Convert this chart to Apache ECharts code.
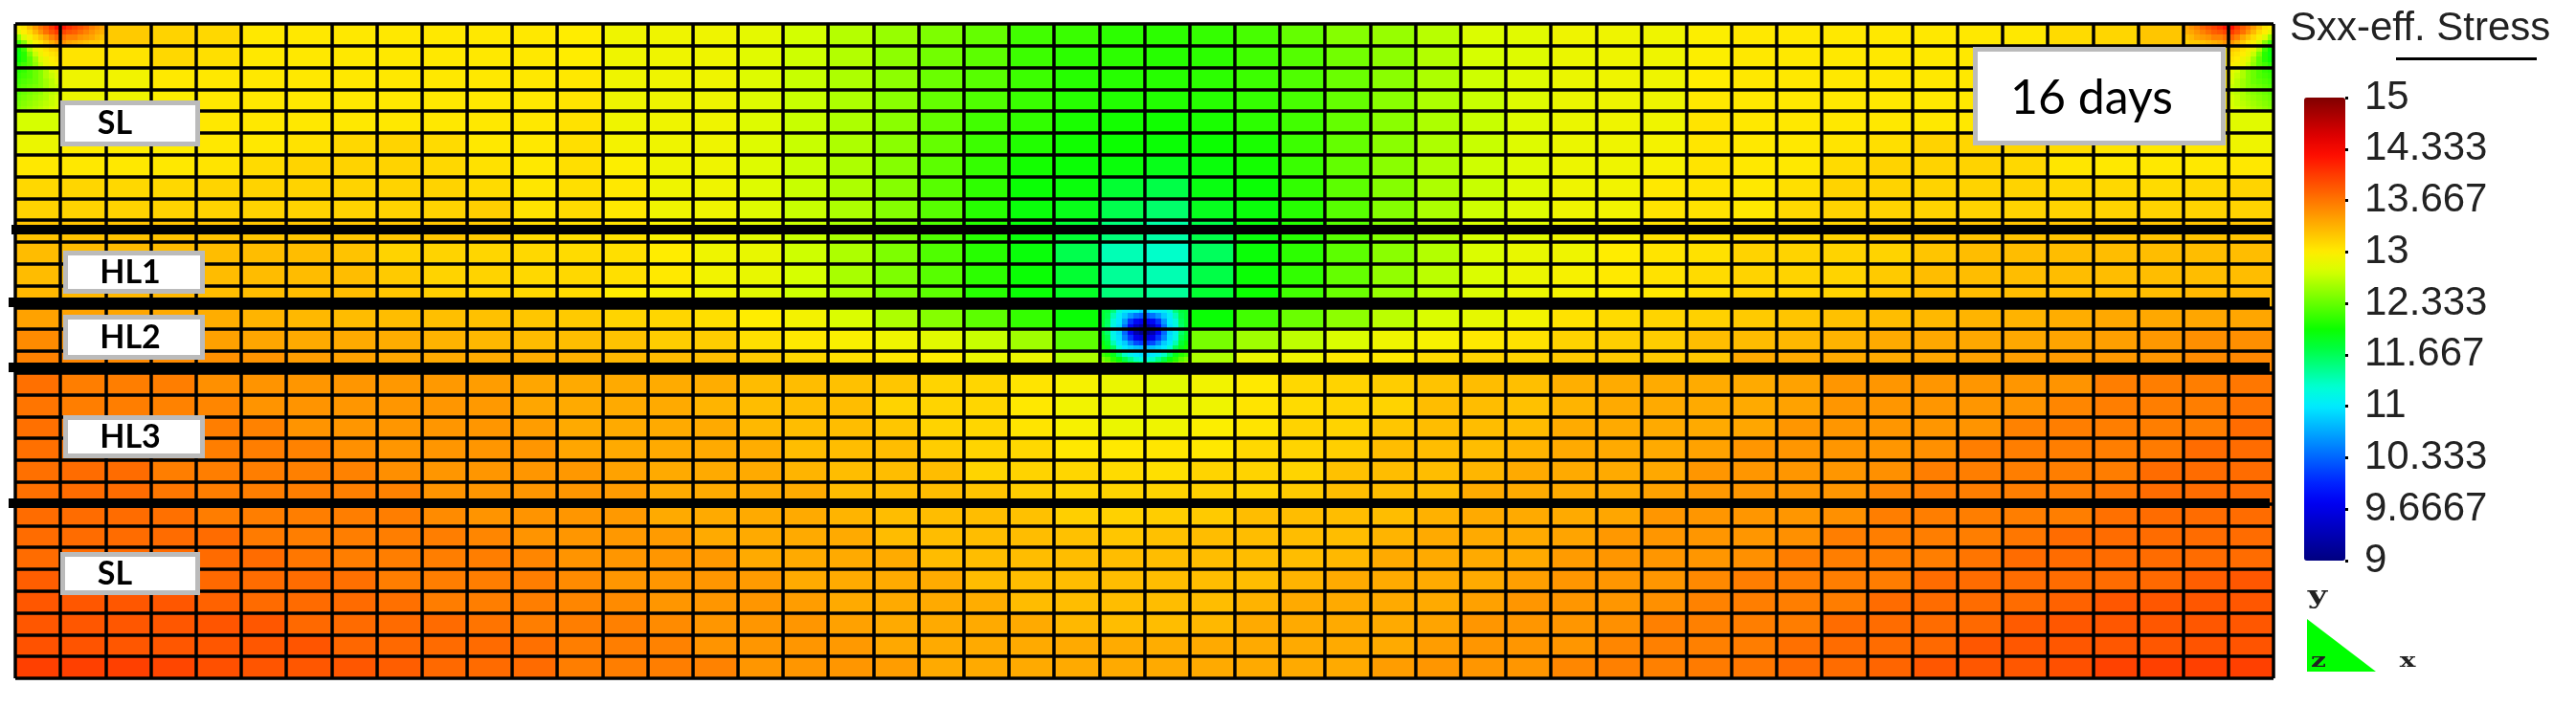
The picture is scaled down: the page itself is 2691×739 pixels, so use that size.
<!DOCTYPE html>
<html>
<head>
<meta charset="utf-8">
<style>html,body{margin:0;padding:0;background:#fff}#c{width:2691px;height:739px}</style>
<script src="https://cdn.jsdelivr.net/npm/echarts@6/dist/echarts.min.js"></script>
</head>
<body>
<div id="c"></div>
<script>
// Element values, one list per mesh row (top to bottom), 50 columns each.
const row00=[13.0,13.5,13.2,13.15,13.12,13.03,13.03,13.03,13.03,13.03,13.03,13.03,13.0,12.9,12.9,12.9,12.84,12.74,12.63,12.52,12.42,12.33,12.2,12.17,12.12,12.12,12.15,12.22,12.33,12.45,12.52,12.64,12.78,12.82,12.9,12.9,12.9,12.98,13.03,13.03,13.03,13.03,13.03,13.03,13.03,13.1,13.13,13.22,13.6,13.0];
const row01=[12.55,13.05,13.05,13.12,13.08,13.03,13.03,13.03,13.03,13.03,13.03,13.03,13.0,12.9,12.9,12.9,12.82,12.72,12.62,12.48,12.38,12.3,12.18,12.12,12.12,12.1,12.12,12.2,12.27,12.38,12.48,12.62,12.75,12.8,12.88,12.9,12.9,12.98,13.03,13.03,13.03,13.03,13.03,13.03,13.03,13.03,13.03,13.03,13.03,12.55];
const row02=[12.45,12.9,12.92,13.02,13.03,13.03,13.03,13.03,13.03,13.03,13.03,13.03,13.03,12.9,12.9,12.9,12.8,12.7,12.6,12.48,12.35,12.28,12.18,12.1,12.1,12.1,12.12,12.18,12.25,12.35,12.47,12.6,12.72,12.8,12.88,12.9,12.9,13.0,13.03,13.03,13.03,13.03,13.03,13.03,13.03,13.03,13.03,13.03,13.03,12.55];
const row03=[12.6,12.88,12.9,12.98,13.03,13.03,13.03,13.03,13.03,13.03,13.03,13.03,13.05,12.9,12.9,12.9,12.8,12.7,12.6,12.47,12.33,12.25,12.17,12.1,12.08,12.08,12.1,12.15,12.22,12.33,12.47,12.6,12.7,12.8,12.88,12.9,12.9,13.03,13.03,13.03,13.03,13.03,13.03,13.03,13.03,13.03,13.03,13.03,13.03,12.72];
const row04=[12.75,13.0,13.0,13.0,13.03,13.03,13.03,13.03,13.03,13.03,13.03,13.03,13.06,12.9,12.9,12.9,12.8,12.7,12.6,12.47,12.33,12.2,12.14,12.05,12.03,12.02,12.05,12.12,12.2,12.33,12.47,12.6,12.7,12.8,12.88,12.9,12.9,13.05,13.03,13.03,13.03,13.03,13.03,13.03,13.03,13.03,13.03,13.03,13.03,12.82];
const row05=[12.88,13.0,13.0,13.0,13.03,13.03,13.06,13.12,13.14,13.1,13.03,13.03,13.08,12.93,12.9,12.9,12.8,12.7,12.6,12.47,12.33,12.18,12.08,12.02,12.0,11.98,12.0,12.05,12.18,12.33,12.47,12.6,12.7,12.8,12.88,12.9,12.93,13.04,13.03,13.03,13.05,13.08,13.15,13.13,13.13,13.1,13.05,13.03,13.03,12.9];
const row06=[13.03,13.03,13.03,13.03,13.05,13.1,13.14,13.15,13.15,13.12,13.07,13.03,13.08,12.98,12.9,12.9,12.8,12.7,12.6,12.45,12.3,12.15,12.03,11.98,11.96,11.9,11.96,12.03,12.17,12.32,12.47,12.6,12.72,12.8,12.89,12.9,12.95,13.05,13.03,13.03,13.1,13.15,13.15,13.15,13.12,13.04,13.03,13.03,13.03,13.03];
const row07=[13.12,13.13,13.12,13.12,13.14,13.15,13.15,13.15,13.15,13.15,13.1,13.04,13.08,13.03,12.9,12.9,12.8,12.7,12.6,12.45,12.28,12.13,11.98,11.95,11.8,11.72,11.93,11.98,12.14,12.3,12.45,12.6,12.7,12.8,12.9,12.92,13.03,13.05,13.03,13.08,13.15,13.15,13.15,13.15,13.15,13.12,13.12,13.1,13.12,13.14];
const row08=[13.15,13.15,13.15,13.15,13.15,13.15,13.15,13.15,13.15,13.15,13.17,13.05,13.1,13.03,12.9,12.9,12.8,12.7,12.6,12.45,12.28,12.1,11.96,11.9,11.7,11.6,11.88,11.96,12.1,12.28,12.45,12.6,12.72,12.8,12.9,12.92,13.05,13.06,13.03,13.12,13.15,13.15,13.15,13.15,13.15,13.15,13.15,13.15,13.15,13.15];
const row09=[13.24,13.24,13.24,13.24,13.24,13.22,13.22,13.22,13.22,13.22,13.2,13.1,13.08,13.06,12.95,12.9,12.82,12.7,12.58,12.42,12.25,12.1,11.96,11.8,11.55,11.4,11.72,11.96,12.1,12.28,12.45,12.6,12.75,12.82,12.9,12.95,13.07,13.07,13.1,13.12,13.15,13.2,13.24,13.24,13.24,13.24,13.24,13.24,13.24,13.24];
const row10=[13.28,13.28,13.28,13.28,13.27,13.27,13.27,13.24,13.15,13.15,13.13,13.12,13.1,13.08,13.0,12.9,12.86,12.72,12.6,12.42,12.25,12.1,11.96,11.7,11.35,11.28,11.65,11.97,12.12,12.3,12.47,12.62,12.78,12.86,12.9,13.0,13.05,13.07,13.15,13.15,13.15,13.15,13.23,13.27,13.27,13.27,13.27,13.27,13.27,13.27];
const row11=[13.28,13.28,13.28,13.28,13.28,13.28,13.28,13.27,13.2,13.15,13.15,13.12,13.12,13.08,13.02,12.92,12.86,12.75,12.58,12.42,12.28,12.12,11.98,11.8,11.45,11.36,11.72,11.98,12.14,12.33,12.5,12.65,12.78,12.88,12.95,13.02,13.06,13.1,13.15,13.15,13.15,13.2,13.27,13.27,13.27,13.27,13.27,13.27,13.27,13.27];
const row12=[13.3,13.3,13.3,13.3,13.27,13.27,13.27,13.27,13.22,13.17,13.15,13.12,13.1,13.0,12.95,12.9,12.82,12.72,12.6,12.42,12.3,12.1,11.98,11.85,11.55,11.45,11.8,12.0,12.2,12.35,12.52,12.65,12.78,12.88,12.93,12.98,13.02,13.08,13.14,13.15,13.15,13.22,13.27,13.27,13.27,13.27,13.27,13.27,13.3,13.3];
const row13=[13.42,13.42,13.4,13.38,13.36,13.32,13.3,13.28,13.27,13.26,13.25,13.22,13.2,13.14,13.13,13.08,13.0,12.93,12.78,12.6,12.45,12.3,12.15,11.98,11.2,11.2,11.98,12.2,12.35,12.48,12.65,12.78,12.85,12.92,13.06,13.1,13.14,13.16,13.2,13.23,13.25,13.27,13.3,13.32,13.33,13.36,13.39,13.39,13.4,13.4];
const row14=[13.55,13.5,13.48,13.46,13.43,13.4,13.38,13.38,13.36,13.33,13.3,13.28,13.27,13.24,13.18,13.18,13.08,13.03,12.97,12.9,12.82,12.7,12.55,12.3,11.2,11.2,12.4,12.55,12.66,12.78,12.9,12.95,13.03,13.06,13.15,13.17,13.18,13.27,13.28,13.3,13.33,13.38,13.39,13.39,13.39,13.41,13.44,13.48,13.53,13.53];
const row15=[13.6,13.58,13.56,13.55,13.52,13.5,13.45,13.42,13.4,13.38,13.37,13.36,13.34,13.3,13.28,13.27,13.2,13.13,13.08,13.04,13.0,12.88,12.88,12.6,12.0,12.0,12.6,12.88,12.9,13.03,13.03,13.1,13.15,13.14,13.2,13.2,13.2,13.22,13.38,13.38,13.38,13.38,13.4,13.42,13.44,13.46,13.48,13.49,13.55,13.57];
const row16=[13.7,13.62,13.62,13.62,13.52,13.5,13.49,13.49,13.48,13.47,13.45,13.4,13.38,13.38,13.37,13.36,13.28,13.27,13.25,13.22,13.14,13.13,13.05,12.95,12.88,12.82,12.92,13.02,13.12,13.15,13.18,13.24,13.27,13.26,13.35,13.37,13.37,13.37,13.38,13.42,13.49,13.49,13.49,13.49,13.49,13.5,13.62,13.62,13.62,13.66];
const row17=[13.67,13.62,13.62,13.6,13.58,13.5,13.5,13.49,13.49,13.49,13.47,13.4,13.38,13.38,13.38,13.32,13.27,13.27,13.27,13.15,13.14,13.13,13.03,12.92,12.88,12.85,12.9,13.05,13.1,13.14,13.15,13.27,13.27,13.25,13.32,13.38,13.38,13.38,13.38,13.42,13.49,13.49,13.49,13.49,13.5,13.58,13.62,13.62,13.62,13.68];
const row18=[13.7,13.64,13.64,13.62,13.62,13.6,13.5,13.49,13.49,13.49,13.49,13.45,13.38,13.38,13.38,13.38,13.3,13.27,13.27,13.22,13.15,13.13,13.05,12.95,12.88,12.9,12.98,13.05,13.15,13.15,13.22,13.27,13.27,13.28,13.37,13.38,13.38,13.38,13.4,13.49,13.49,13.49,13.49,13.5,13.6,13.62,13.62,13.62,13.62,13.72];
const row19=[13.7,13.68,13.68,13.68,13.62,13.62,13.6,13.52,13.49,13.49,13.49,13.49,13.4,13.38,13.38,13.38,13.36,13.27,13.27,13.27,13.18,13.14,13.12,13.03,13.02,13.04,13.03,13.12,13.14,13.17,13.27,13.27,13.27,13.32,13.38,13.38,13.38,13.42,13.49,13.49,13.49,13.49,13.52,13.62,13.62,13.62,13.62,13.64,13.72,13.72];
const row20=[13.7,13.72,13.72,13.62,13.62,13.62,13.61,13.6,13.53,13.49,13.49,13.49,13.48,13.42,13.38,13.38,13.38,13.32,13.27,13.27,13.27,13.14,13.15,13.13,13.1,13.08,13.14,13.15,13.14,13.25,13.27,13.27,13.31,13.38,13.38,13.38,13.39,13.49,13.49,13.49,13.49,13.52,13.62,13.62,13.62,13.62,13.63,13.72,13.72,13.72];
const row21=[13.7,13.72,13.72,13.66,13.62,13.62,13.62,13.61,13.6,13.5,13.49,13.49,13.49,13.46,13.38,13.38,13.38,13.37,13.28,13.27,13.27,13.24,13.18,13.14,13.15,13.15,13.16,13.15,13.2,13.27,13.27,13.27,13.37,13.38,13.38,13.38,13.42,13.48,13.49,13.49,13.49,13.58,13.62,13.62,13.62,13.62,13.66,13.72,13.72,13.72];
const row22=[13.72,13.72,13.72,13.7,13.63,13.62,13.62,13.62,13.62,13.55,13.5,13.5,13.49,13.47,13.38,13.38,13.38,13.38,13.32,13.27,13.27,13.27,13.25,13.17,13.16,13.18,13.2,13.27,13.27,13.27,13.27,13.34,13.38,13.38,13.38,13.4,13.49,13.49,13.49,13.49,13.52,13.62,13.62,13.62,13.62,13.62,13.7,13.72,13.72,13.72];
const row23=[13.72,13.72,13.72,13.72,13.72,13.64,13.62,13.62,13.62,13.62,13.58,13.5,13.49,13.48,13.46,13.38,13.38,13.38,13.38,13.28,13.27,13.27,13.27,13.25,13.22,13.25,13.27,13.27,13.27,13.27,13.32,13.38,13.38,13.38,13.41,13.48,13.49,13.49,13.49,13.52,13.62,13.62,13.62,13.62,13.66,13.72,13.72,13.72,13.72,13.72];
const row24=[13.72,13.73,13.73,13.73,13.73,13.72,13.66,13.62,13.62,13.62,13.62,13.58,13.5,13.49,13.49,13.47,13.38,13.38,13.38,13.37,13.28,13.27,13.27,13.27,13.27,13.27,13.27,13.27,13.27,13.3,13.38,13.38,13.38,13.38,13.46,13.49,13.49,13.49,13.52,13.62,13.62,13.62,13.62,13.67,13.72,13.72,13.72,13.72,13.72,13.72];
const row25=[13.8,13.78,13.75,13.74,13.74,13.72,13.72,13.7,13.62,13.62,13.62,13.62,13.55,13.49,13.49,13.49,13.46,13.38,13.38,13.38,13.37,13.28,13.27,13.27,13.27,13.27,13.27,13.27,13.32,13.38,13.38,13.38,13.38,13.44,13.49,13.49,13.49,13.56,13.62,13.62,13.62,13.63,13.72,13.72,13.72,13.72,13.72,13.74,13.8,13.84];
const row26=[13.84,13.84,13.84,13.84,13.78,13.73,13.73,13.73,13.7,13.63,13.62,13.62,13.58,13.55,13.49,13.49,13.49,13.45,13.38,13.38,13.38,13.36,13.28,13.27,13.27,13.27,13.27,13.33,13.38,13.38,13.38,13.38,13.43,13.49,13.49,13.49,13.52,13.6,13.62,13.62,13.63,13.72,13.72,13.72,13.72,13.78,13.84,13.84,13.84,13.84];
const row27=[13.84,13.84,13.84,13.84,13.85,13.84,13.74,13.73,13.73,13.73,13.68,13.62,13.62,13.61,13.55,13.49,13.49,13.49,13.43,13.38,13.38,13.38,13.38,13.3,13.27,13.27,13.3,13.38,13.38,13.38,13.38,13.41,13.49,13.49,13.49,13.52,13.61,13.61,13.62,13.63,13.72,13.72,13.72,13.74,13.82,13.84,13.84,13.84,13.84,13.84];
const row28=[13.87,13.86,13.84,13.84,13.84,13.84,13.85,13.75,13.74,13.73,13.73,13.7,13.62,13.62,13.6,13.5,13.49,13.49,13.47,13.39,13.38,13.38,13.38,13.38,13.37,13.36,13.38,13.38,13.38,13.38,13.38,13.45,13.49,13.49,13.49,13.58,13.61,13.61,13.63,13.7,13.72,13.72,13.74,13.84,13.84,13.84,13.84,13.84,13.86,13.86];
const row29=[13.97,13.97,13.97,13.94,13.88,13.85,13.84,13.84,13.8,13.74,13.73,13.73,13.62,13.62,13.62,13.6,13.49,13.49,13.49,13.45,13.38,13.38,13.38,13.38,13.38,13.38,13.38,13.38,13.38,13.38,13.45,13.49,13.49,13.49,13.57,13.61,13.61,13.64,13.66,13.72,13.72,13.76,13.84,13.84,13.84,13.88,13.96,13.97,13.97,13.97];
const meshRows=[row00,row01,row02,row03,row04,row05,row06,row07,row08,row09,row10,row11,row12,row13,row14,row15,row16,row17,row18,row19,row20,row21,row22,row23,row24,row25,row26,row27,row28,row29];

// Finer readings where a single element holds a strong gradient.
const flawPatch=[ // columns 24-25, rows 13-15: 8 values across an element, 4 down
[11.8,11.75,11.55,11.2,11.05,11.0,11.0,10.85,10.85,11.0,11.0,11.05,11.2,11.55,11.75,11.8],
[11.8,11.7,11.35,11.05,10.85,10.6,10.4,10.3,10.3,10.4,10.6,10.85,11.05,11.35,11.7,11.8],
[11.8,11.65,11.2,11.0,10.6,10.1,9.8,9.7,9.7,9.8,10.1,10.6,11.0,11.2,11.65,11.8],
[11.8,11.6,11.15,10.95,10.4,9.8,9.4,9.2,9.2,9.4,9.8,10.4,10.95,11.15,11.6,11.8],
[11.8,11.6,11.1,10.9,10.35,9.8,9.3,9.1,9.1,9.3,9.8,10.35,10.9,11.1,11.6,11.8],
[11.85,11.7,11.15,10.95,10.5,10.1,9.7,9.6,9.6,9.7,10.1,10.5,10.95,11.15,11.7,11.85],
[11.95,11.8,11.35,11.0,10.85,10.5,10.2,10.1,10.1,10.2,10.5,10.85,11.0,11.35,11.8,11.95],
[12.05,11.9,11.65,11.25,11.0,10.9,10.8,10.75,10.75,10.8,10.9,11.0,11.25,11.65,11.9,12.05],
[12.2,12.1,11.9,11.6,11.3,11.1,11.0,10.95,10.95,11.0,11.1,11.3,11.6,11.9,12.1,12.2],
[12.4,12.3,12.1,11.95,11.7,11.5,11.3,11.2,11.2,11.3,11.5,11.7,11.95,12.1,12.3,12.4],
[12.6,12.5,12.35,12.2,12.05,11.9,11.8,11.7,11.7,11.8,11.9,12.05,12.2,12.35,12.5,12.6],
[12.7,12.65,12.55,12.45,12.3,12.2,12.1,12.05,12.05,12.1,12.2,12.3,12.45,12.55,12.65,12.7]];
const cornerLeftA=[ // columns 0-1, row 0
[13.0,13.05,13.25,13.45,13.65,13.8,14.0,14.25,14.2,14.05,13.95,13.85,13.75,13.6,13.5,13.4],
[12.85,13.0,13.1,13.3,13.5,13.7,13.85,14.0,13.95,13.85,13.8,13.7,13.6,13.5,13.4,13.35],
[12.5,12.8,12.95,13.1,13.25,13.4,13.6,13.75,13.7,13.6,13.6,13.5,13.45,13.4,13.3,13.25],
[12.2,12.45,12.75,12.95,13.05,13.2,13.35,13.5,13.5,13.4,13.35,13.3,13.25,13.2,13.2,13.15]];
const cornerLeftB=[ // column 0, rows 1-3
[12.0,12.2,12.6,12.85,12.95,13.05,13.15,13.2],
[11.95,12.1,12.4,12.7,12.9,13.0,13.05,13.1],
[12.0,12.1,12.3,12.55,12.8,12.9,13.0,13.05],
[12.1,12.2,12.3,12.5,12.7,12.88,12.95,13.0],
[12.1,12.15,12.25,12.35,12.45,12.6,12.75,12.85],
[12.15,12.2,12.25,12.35,12.45,12.6,12.7,12.8],
[12.2,12.25,12.3,12.35,12.45,12.55,12.65,12.75],
[12.25,12.3,12.35,12.4,12.45,12.55,12.65,12.7],
[12.3,12.35,12.4,12.45,12.5,12.6,12.65,12.7],
[12.35,12.4,12.45,12.5,12.55,12.6,12.7,12.75],
[12.4,12.45,12.5,12.55,12.6,12.65,12.7,12.75],
[12.45,12.5,12.55,12.6,12.65,12.7,12.75,12.8]];
const cornerRightA=[ // columns 48-49, row 0
[13.4,13.5,13.6,13.75,13.85,13.95,14.05,14.2,14.25,14.0,13.8,13.65,13.45,13.25,13.05,13.0],
[13.35,13.4,13.5,13.6,13.7,13.8,13.85,13.95,14.0,13.85,13.7,13.5,13.3,13.1,13.0,12.85],
[13.25,13.3,13.4,13.45,13.5,13.6,13.6,13.7,13.75,13.6,13.4,13.25,13.1,12.95,12.8,12.5],
[13.15,13.2,13.2,13.25,13.3,13.35,13.4,13.5,13.5,13.35,13.2,13.05,12.95,12.75,12.45,12.2]];
const cornerRightB=[ // column 49, rows 1-3
[13.2,13.15,13.05,12.95,12.85,12.6,12.2,12.0],
[13.1,13.05,13.0,12.9,12.7,12.4,12.1,11.95],
[13.05,13.0,12.9,12.8,12.55,12.3,12.1,12.0],
[13.0,12.95,12.88,12.7,12.5,12.3,12.2,12.1],
[12.85,12.75,12.6,12.45,12.35,12.25,12.15,12.1],
[12.8,12.7,12.6,12.45,12.35,12.25,12.2,12.15],
[12.75,12.65,12.55,12.45,12.35,12.3,12.25,12.2],
[12.7,12.65,12.55,12.45,12.4,12.35,12.3,12.25],
[12.7,12.65,12.6,12.5,12.45,12.4,12.35,12.3],
[12.75,12.7,12.6,12.55,12.5,12.45,12.4,12.35],
[12.75,12.7,12.65,12.6,12.55,12.5,12.45,12.4],
[12.8,12.75,12.7,12.65,12.6,12.55,12.5,12.45]];

const legendTicks=[9,9.6667,10.333,11,11.667,12.333,13,13.667,14.333,15];
const jetStops=['#000080','#0000A6','#0000CC','#0000F3','#0022FF','#0054FF','#0086FF','#00B9FF','#00EBFF','#00FFD3','#00FF88','#00FF3E','#0BFF00','#4FFF00','#92FF00','#D6FF00','#FFED00','#FFC100','#FF9400','#FF6700','#FF3B00','#FF0E00','#DF0000','#AF0000','#800000'];
const layerLabels=[
  {text:'SL', box:[63,105,146,48],tx:120,ty:129},
  {text:'HL1',box:[66,262,148,45],tx:136,ty:285},
  {text:'HL2',box:[66,329,148,47],tx:136,ty:353},
  {text:'HL3',box:[66,434,148,45],tx:136,ty:457},
  {text:'SL', box:[63,577,146,45],tx:120,ty:600}
];
const layerLines=[[12,2375,240],[9,2371,316],[9,2371,384],[9,2371,526]];

// ---- data for the library ----
const cellData=[];
meshRows.forEach((r,j)=>r.forEach((v,i)=>cellData.push([i,j,v,1,1])));
const patchData=[];
function addPatch(vals,col,row,perCol,perRow){
  vals.forEach((r,j)=>r.forEach((v,i)=>patchData.push([col+i/perCol,row+j/perRow,v,1/perCol,1/perRow])));
}
addPatch(flawPatch,24,13,8,4);
addPatch(cornerLeftA,0,0,8,4);
addPatch(cornerLeftB,0,1,8,4);
addPatch(cornerRightA,48,0,8,4);
addPatch(cornerRightB,49,1,8,4);

function renderCell(params,api){
  const x=api.value(0),y=api.value(1),w=api.value(3),h=api.value(4);
  const a=api.coord([x,y]),b=api.coord([x+w,y+h]);
  const x0=Math.round(a[0]),y0=Math.round(a[1]),x1=Math.round(b[0]),y1=Math.round(b[1]);
  return {type:'rect',shape:{x:x0,y:y0,width:x1-x0,height:y1-y0},style:{fill:api.visual('color')}};
}

const graphics=[];
layerLines.forEach(l=>graphics.push({type:'rect',z:50,shape:{x:l[0],y:l[2]-5,width:l[1]-l[0],height:10},style:{fill:'#000'}}));
layerLabels.forEach(b=>{
  graphics.push({type:'rect',z:51,shape:{x:b.box[0]+2.5,y:b.box[1]+2.5,width:b.box[2]-5,height:b.box[3]-5},style:{fill:'#fff',stroke:'#BBBBBB',lineWidth:5}});
  graphics.push({type:'text',z:52,x:b.tx,y:b.ty,style:{text:b.text,font:'bold 34px Lato',fill:'#000',textAlign:'center',textVerticalAlign:'middle'}});
});
graphics.push({type:'rect',z:51,shape:{x:2063.5,y:51.5,width:259,height:98},style:{fill:'#fff',stroke:'#BBBBBB',lineWidth:5}});
graphics.push({type:'text',z:52,x:2185,y:103,style:{text:'16 days',font:'50px Lato',fill:'#000',textAlign:'center',textVerticalAlign:'middle'}});
graphics.push({type:'rect',z:51,shape:{x:2503,y:60,width:147,height:3},style:{fill:'#000'}});
graphics.push({type:'polygon',z:51,shape:{points:[[2410,647],[2410,702],[2482,702]]},style:{fill:'#00FF00'}});
graphics.push({type:'text',z:52,x:2421,y:624,scaleX:1.35,style:{text:'y',font:'bold 26px "DejaVu Serif"',fill:'#222',textAlign:'center',textVerticalAlign:'middle'}});
graphics.push({type:'text',z:52,x:2422,y:692,scaleX:1.4,style:{text:'z',font:'bold 20px "DejaVu Serif"',fill:'#222',textAlign:'center',textVerticalAlign:'middle'}});
graphics.push({type:'text',z:52,x:2515,y:692,scaleX:1.4,style:{text:'x',font:'bold 20px "DejaVu Serif"',fill:'#222',textAlign:'center',textVerticalAlign:'middle'}});

const chart=echarts.init(document.getElementById('c'),null,{renderer:'canvas'});
chart.setOption({
  animation:false,
  backgroundColor:'#fff',
  title:{text:'Sxx-eff. Stress',left:2387,top:4,textStyle:{fontFamily:'Liberation Sans',fontSize:42,fontWeight:'normal',color:'#222'}},
  grid:[
    {left:16,top:25,width:2359,height:684,containLabel:false},
    {left:2407,top:102,width:43,height:484}
  ],
  xAxis:[
    {type:'value',gridIndex:0,min:0,max:50,interval:1,z:3,axisLabel:{show:false},axisTick:{show:false},axisLine:{show:false},splitLine:{show:true,lineStyle:{color:'#000',width:3.5}}},
    {type:'value',gridIndex:1,min:0,max:1,show:false}
  ],
  yAxis:[
    {type:'value',gridIndex:0,min:0,max:30,interval:1,inverse:true,z:3,axisLabel:{show:false},axisTick:{show:false},axisLine:{show:false},splitLine:{show:true,lineStyle:{color:'#000',width:3.5}}},
    {type:'value',gridIndex:1,min:9,max:15,position:'right',z:6,splitLine:{show:false},axisLine:{show:false,onZero:false},
     axisTick:{show:true,length:3,customValues:legendTicks,lineStyle:{color:'#000',width:3}},
     axisLabel:{show:true,customValues:legendTicks,margin:20,padding:[0,0,10,0],fontFamily:'Liberation Sans',fontSize:42,color:'#222'}}
  ],
  visualMap:{type:'continuous',min:9,max:15,dimension:2,seriesIndex:[0,1],calculable:false,realtime:false,left:2407,top:102,padding:0,itemWidth:43,itemHeight:484,showLabel:false,inRange:{color:jetStops},textStyle:{fontSize:1,color:'rgba(0,0,0,0)'}},
  series:[
    {type:'custom',name:'Sxx-eff. Stress',xAxisIndex:0,yAxisIndex:0,renderItem:renderCell,data:cellData,encode:{x:0,y:1},silent:true,clip:true},
    {type:'custom',name:'Sxx-eff. Stress detail',xAxisIndex:0,yAxisIndex:0,renderItem:renderCell,data:patchData,encode:{x:0,y:1},silent:true,clip:true}
  ],
  graphic:{elements:graphics}
});
</script>
</body>
</html>
